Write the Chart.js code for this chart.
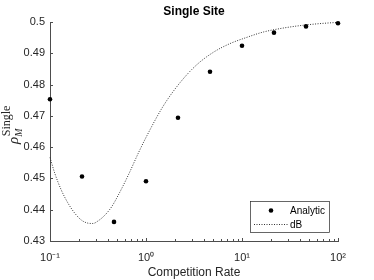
<!DOCTYPE html>
<html>
<head>
<meta charset="utf-8">
<script src="https://cdn.jsdelivr.net/npm/chart.js@4.4.1/dist/chart.umd.min.js"></script>
<style>
  html, body { margin: 0; padding: 0; background: #fff; }
  canvas { display: block; }
</style>
</head>
<body>
<canvas id="chart" width="374" height="280"></canvas>
<script>
// analytic points (1/3 decade steps)
var rates = [0.1, 0.2154, 0.4642, 1, 2.154, 4.642, 10, 21.54, 46.42, 100];
var analytic = [0.4753, 0.4506, 0.4361, 0.4491, 0.4694, 0.4841, 0.4924, 0.4966, 0.4986, 0.4996];

// dB curve
var dbRates = [0.1, 0.112, 0.131, 0.154, 0.181, 0.212, 0.249, 0.28, 0.316, 0.374, 0.44, 0.515,
  0.655, 0.832, 1.0, 1.51, 2.26, 3.37, 5.02, 7.5, 11, 16.7, 25, 37, 60, 100];
var dbValues = [0.4567, 0.4517, 0.4463, 0.4421, 0.4389, 0.4367, 0.4357, 0.4356, 0.4364, 0.4383, 0.4410, 0.4447,
  0.4511, 0.4581, 0.4631, 0.4731, 0.4806, 0.4863, 0.4903, 0.4931, 0.4950, 0.4968, 0.4979, 0.4987, 0.4994, 0.4999];

var xTicks = [0.1, 1, 10, 100];
var xTickLabels = ['10\u207B\u00B9', '10\u2070', '10\u00B9', '10\u00B2'];
var yTicks = [0.43, 0.44, 0.45, 0.46, 0.47, 0.48, 0.49, 0.5];

var axisColor = '#262626';
var sansFont = 'Arial, "Liberation Sans", Helvetica, sans-serif';
var serifFont = '"Liberation Serif", "DejaVu Serif", serif';

function toPoints(xs, ys) {
  return xs.map(function (x, i) { return { x: x, y: ys[i] }; });
}

var decor = {
  id: 'decor',
  afterDraw: function (chart) {
    var ctx = chart.ctx, a = chart.chartArea;
    var xs = chart.scales.x, ys = chart.scales.y;
    ctx.save();

    // inward ticks
    ctx.strokeStyle = '#4d4d4d';
    ctx.lineWidth = 1;
    ctx.beginPath();
    yTicks.forEach(function (v) {
      var py = Math.round(ys.getPixelForValue(v)) + 0.5;
      ctx.moveTo(a.left, py);
      ctx.lineTo(a.left + 3, py);
    });
    for (var d = -1; d <= 2; d++) {
      for (var m = 1; m <= 9; m++) {
        var v = m * Math.pow(10, d);
        if (v > 100) break;
        var px = Math.round(xs.getPixelForValue(v)) + 0.5;
        ctx.moveTo(px, a.bottom);
        ctx.lineTo(px, a.bottom - (m === 1 ? 3 : 2));
      }
    }
    ctx.stroke();

    // title
    ctx.fillStyle = '#000';
    ctx.font = 'bold 12px ' + sansFont;
    ctx.textAlign = 'center';
    ctx.textBaseline = 'alphabetic';
    ctx.fillText('Single Site', (a.left + a.right) / 2, 15);

    // y label  rho_M^Single
    ctx.save();
    ctx.translate(18, 125);
    ctx.rotate(-Math.PI / 2);
    ctx.fillStyle = axisColor;
    ctx.textAlign = 'left';
    ctx.font = 'italic 15px ' + serifFont;
    var rw = ctx.measureText('\u03C1').width;
    ctx.font = '12px ' + serifFont;
    var sw = ctx.measureText('Single').width;
    var x0 = -(rw + sw) / 2;
    ctx.font = 'italic 15px ' + serifFont;
    ctx.fillText('\u03C1', x0, 0);
    ctx.font = '12px ' + serifFont;
    ctx.fillText('Single', x0 + rw + 0.5, -8);
    ctx.font = 'italic 10px ' + serifFont;
    ctx.fillText('M', x0 + rw, 3.5);
    ctx.restore();

    // legend box
    var lx = 250.5, ly = 201.5, lw = 79, lh = 31;
    ctx.fillStyle = '#fff';
    ctx.fillRect(lx, ly, lw, lh);
    ctx.strokeStyle = '#262626';
    ctx.lineWidth = 0.7;
    ctx.strokeRect(lx, ly, lw, lh);

    var ds = chart.data.datasets;
    ctx.fillStyle = '#000';
    ctx.beginPath();
    ctx.arc(271, 210.5, 2.3, 0, Math.PI * 2);
    ctx.fill();

    ctx.strokeStyle = '#333';
    ctx.lineWidth = 1;
    ctx.setLineDash([1, 1.5]);
    ctx.beginPath();
    ctx.moveTo(254, 224.5);
    ctx.lineTo(288, 224.5);
    ctx.stroke();
    ctx.setLineDash([]);

    ctx.font = '10px ' + sansFont;
    ctx.textAlign = 'left';
    ctx.textBaseline = 'middle';
    ctx.fillStyle = '#000';
    ctx.fillText(ds[0].label, 290, 211);
    ctx.fillText(ds[1].label, 290, 225);

    ctx.restore();
  }
};

var ctx = document.getElementById('chart');
var chart = new Chart(ctx, {
  type: 'scatter',
  data: {
    datasets: [{
      label: 'Analytic',
      data: toPoints(rates, analytic),
      pointRadius: 2.3,
      pointBackgroundColor: '#000',
      pointBorderWidth: 0,
      showLine: false,
      clip: false
    }, {
      label: 'dB',
      data: toPoints(dbRates, dbValues),
      showLine: true,
      pointRadius: 0,
      borderColor: '#333',
      borderWidth: 1,
      borderDash: [1, 1.5],
      cubicInterpolationMode: 'monotone',
      fill: false,
      clip: false
    }]
  },
  options: {
    responsive: false,
    animation: false,
    devicePixelRatio: 1,
    layout: { padding: { top: 22, right: 36, bottom: 0, left: 0 } },
    plugins: {
      legend: { display: false },
      title: { display: false },
      tooltip: { enabled: false }
    },
    scales: {
      x: {
        type: 'logarithmic',
        min: 0.1,
        max: 100,
        afterBuildTicks: function (scale) {
          scale.ticks = xTicks.map(function (v) { return { value: v }; });
        },
        afterFit: function (scale) { scale.height = 39; },
        grid: { display: false, drawTicks: false },
        border: { display: true, color: '#4d4d4d', width: 1 },
        ticks: {
          padding: 10,
          maxRotation: 0,
          color: axisColor,
          font: { family: sansFont, size: 11 },
          callback: function (v) {
            var i = xTicks.indexOf(v);
            return i >= 0 ? xTickLabels[i] : '';
          }
        },
        title: {
          display: true,
          text: 'Competition Rate',
          color: axisColor,
          font: { family: sansFont, size: 12 },
          padding: { top: 0, bottom: 0 }
        }
      },
      y: {
        min: 0.43,
        max: 0.5,
        afterBuildTicks: function (scale) {
          scale.ticks = yTicks.map(function (v) { return { value: v }; });
        },
        afterFit: function (scale) { scale.width = 50; },
        grid: { display: false, drawTicks: false },
        border: { display: true, color: '#4d4d4d', width: 1 },
        ticks: {
          padding: 5,
          color: axisColor,
          font: { family: sansFont, size: 11 },
          callback: function (v) { return String(Math.round(v * 100) / 100); }
        }
      }
    }
  },
  plugins: [decor]
});
</script>
</body>
</html>
